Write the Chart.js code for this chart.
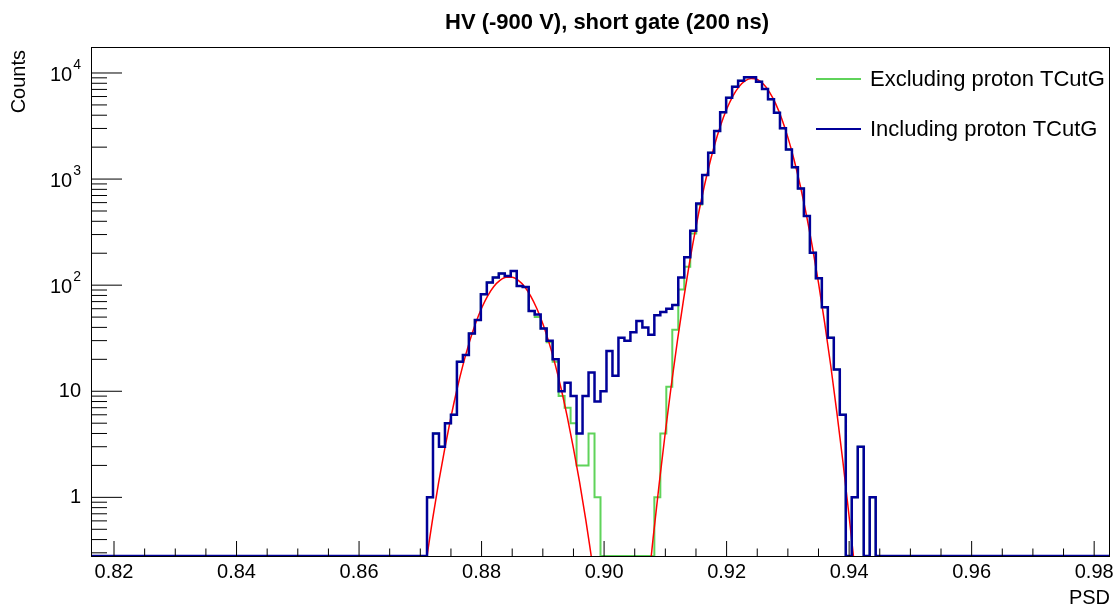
<!DOCTYPE html>
<html>
<head>
<meta charset="utf-8">
<script src="https://cdn.jsdelivr.net/npm/chart.js@4.4.0/dist/chart.umd.min.js"></script>
<style>
  html, body { margin: 0; padding: 0; background: #fff; }
</style>
</head>
<body>
<canvas id="myChart" width="1118" height="611"></canvas>
<script>
// PSD histogram, 1024 bins over [0, 1], only bins 836..1006 are shown
const bin_count = 1024;
const first_shown_bin = 836;
const last_shown_bin = 1006;
const first_filled_bin = 892; // counts below start at this bin

// including proton TCutG (blue)
const counts_incl = [1, 4, 3, 5, 6, 19, 22, 35, 47, 82, 106, 118, 129, 122, 136, 98, 96, 57, 53, 39,
  30, 20, 10, 12, 9, 4, 9, 15, 8, 10, 24, 14, 32, 30, 36, 46, 40, 34, 52, 56,
  60, 65, 118, 183, 325, 590, 1091, 1771, 2837, 4258, 5850, 7430, 8460, 9100, 9100, 8280, 7060, 5650, 4225, 3007,
  1905, 1290, 817, 448, 202, 116, 62, 32, 16, 6, 0, 1, 3, 0, 1];

// excluding proton TCutG (green)
const counts_excl = [1, 4, 3, 5, 6, 19, 22, 35, 47, 82, 106, 118, 129, 122, 136, 98, 96, 57, 50, 39,
  29, 19, 9, 7, 5, 2, 2, 4, 1, 0, 0, 0, 0, 0, 0, 0, 0, 0, 1, 4,
  11, 38, 91, 149, 307, 575, 1091, 1771, 2837, 4258, 5850, 7430, 8460, 9100, 9100, 8280, 7060, 5650, 4225, 3007,
  1905, 1290, 817, 448, 202, 116, 62, 32, 16, 6, 0, 1, 3, 0, 1];

// gaussian fits (red)
const fit1_x = [0.8711, 0.872, 0.873, 0.874, 0.875, 0.876, 0.877, 0.878, 0.879, 0.880, 0.881, 0.882, 0.883, 0.884,
  0.885, 0.886, 0.887, 0.888, 0.889, 0.890, 0.891, 0.892, 0.893, 0.894, 0.895, 0.896, 0.897, 0.8979];
const fit1_y = [0.28, 0.62, 1.39, 2.9, 5.7, 10.5, 18, 28.9, 43.3, 60.6, 79.4, 97.2, 111, 119,
  119, 111, 97.2, 79.4, 60.6, 43.3, 28.9, 18, 10.5, 5.7, 2.9, 1.39, 0.62, 0.28];

const fit2_x = [0.9077, 0.908, 0.909, 0.910, 0.911, 0.912, 0.913, 0.914, 0.915, 0.916, 0.917, 0.918, 0.919, 0.920,
  0.921, 0.922, 0.923, 0.924, 0.925, 0.926, 0.927, 0.928, 0.929, 0.930, 0.931, 0.932, 0.933, 0.934,
  0.935, 0.936, 0.937, 0.938, 0.939, 0.940, 0.9407];
const fit2_y = [0.28, 0.41, 1.35, 4.13, 11.7, 30.8, 75, 170, 355, 689, 1238, 2061, 3180, 4548,
  6028, 7403, 8425, 8887, 8686, 7868, 6604, 5137, 3703, 2474, 1531, 879, 467, 230,
  105, 44.4, 17.4, 6.3, 2.13, 0.66, 0.28];

const y_min = 0.28;
const y_max = 17200;
const x_ticks = [0.82, 0.825, 0.83, 0.835, 0.84, 0.845, 0.85, 0.855, 0.86, 0.865, 0.87, 0.875, 0.88, 0.885,
  0.89, 0.895, 0.90, 0.905, 0.91, 0.915, 0.92, 0.925, 0.93, 0.935, 0.94, 0.945, 0.95, 0.955, 0.96, 0.965,
  0.97, 0.975, 0.98];
const x_labels = ["0.82", "0.84", "0.86", "0.88", "0.90", "0.92", "0.94", "0.96", "0.98"];
const y_major = [1, 10, 100, 1000, 10000];
const y_labels = ["1", "10", "10^2", "10^3", "10^4"];

const font_family = "'Liberation Sans', Arial, Helvetica, sans-serif";

function histPoints(counts) {
  const pts = [];
  for (let b = first_shown_bin; b < last_shown_bin; b++) {
    const i = b - first_filled_bin;
    const c = (i >= 0 && i < counts.length) ? counts[i] : 0;
    pts.push({x: b / bin_count, y: c > 0 ? c : y_min}); // empty bins sit on the axis like ROOT
  }
  pts.push({x: last_shown_bin / bin_count, y: y_min});
  return pts;
}

function fitPoints(xs, ys) {
  return xs.map((x, i) => ({x: x, y: ys[i]}));
}

function labelFor(v) {
  const idx = Math.round((v - 0.82) / 0.02);
  if (Math.abs(v - (0.82 + idx * 0.02)) < 1e-6) return x_labels[idx];
  return "";
}

// frame, inward ticks, y labels, titles and legend, ROOT style
const rootFrame = {
  id: "rootFrame",
  afterDraw(chart) {
    const {ctx, chartArea: a, scales: {x, y}} = chart;
    ctx.save();
    ctx.strokeStyle = "#000";
    ctx.lineWidth = 1;
    ctx.strokeRect(a.left - 0.5, a.top - 0.5, a.right - a.left + 1, a.bottom - a.top + 1);

    ctx.beginPath();
    x.ticks.forEach(t => {
      const px = x.getPixelForValue(t.value);
      const len = labelFor(t.value) ? 15 : 7.5;
      ctx.moveTo(px, a.bottom);
      ctx.lineTo(px, a.bottom - len);
    });
    y.ticks.forEach(t => {
      const py = y.getPixelForValue(t.value);
      const len = y_major.includes(t.value) ? 30 : 15;
      ctx.moveTo(a.left, py);
      ctx.lineTo(a.left + len, py);
    });
    ctx.stroke();

    // y labels with superscript exponents
    ctx.fillStyle = "#000";
    ctx.textBaseline = "middle";
    ctx.textAlign = "right";
    const rx = a.left - 11;
    y_major.forEach((v, i) => {
      const py = y.getPixelForValue(v);
      const parts = y_labels[i].split("^");
      if (parts.length === 1) {
        ctx.font = "20px " + font_family;
        ctx.fillText(parts[0], rx, py);
      } else {
        ctx.font = "14px " + font_family;
        const ew = ctx.measureText(parts[1]).width;
        ctx.fillText(parts[1], rx, py - 8);
        ctx.font = "20px " + font_family;
        ctx.fillText(parts[0], rx - ew - 1, py + 2);
      }
    });

    // axis titles
    ctx.font = "20px " + font_family;
    ctx.textAlign = "right";
    ctx.textBaseline = "middle";
    ctx.fillText("PSD", a.right + 1, 598);
    ctx.save();
    ctx.translate(19, a.top + 2);
    ctx.rotate(-Math.PI / 2);
    ctx.fillText("Counts", 0, 0);
    ctx.restore();

    // title
    ctx.font = "bold 22px " + font_family;
    ctx.textAlign = "center";
    ctx.fillText("HV (-900 V), short gate (200 ns)", 607, 23);

    // legend
    const entries = [chart.data.datasets[0], chart.data.datasets[1]];
    entries.forEach((ds, i) => {
      const ly = 79 + i * 50;
      ctx.strokeStyle = ds.borderColor;
      ctx.lineWidth = 2;
      ctx.beginPath();
      ctx.moveTo(816, ly);
      ctx.lineTo(861, ly);
      ctx.stroke();
      ctx.font = "22px " + font_family;
      ctx.textAlign = "left";
      ctx.fillText(ds.label, 870, ly + 1);
    });
    ctx.restore();
  }
};

const ctx = document.getElementById("myChart").getContext("2d");

const chart = new Chart(ctx, {
  type: "line",
  data: {
    datasets: [
      {
        label: "Excluding proton TCutG",
        data: histPoints(counts_excl),
        borderColor: "#5fd35a",
        borderWidth: 2,
        stepped: "before",
        fill: false,
        order: 2
      },
      {
        label: "Including proton TCutG",
        data: histPoints(counts_incl),
        borderColor: "#000099",
        borderWidth: 2.5,
        stepped: "before",
        fill: false,
        order: 0
      },
      {
        label: "fit 1",
        data: fitPoints(fit1_x, fit1_y),
        borderColor: "#ff0000",
        borderWidth: 1.5,
        cubicInterpolationMode: "monotone",
        fill: false,
        order: 1
      },
      {
        label: "fit 2",
        data: fitPoints(fit2_x, fit2_y),
        borderColor: "#ff0000",
        borderWidth: 1.5,
        cubicInterpolationMode: "monotone",
        fill: false,
        order: 1
      }
    ]
  },
  options: {
    responsive: false,
    animation: false,
    layout: {padding: {top: 48, right: 9, left: 0, bottom: 0}},
    elements: {point: {radius: 0}},
    plugins: {legend: {display: false}, tooltip: {enabled: false}, title: {display: false}},
    scales: {
      x: {
        type: "linear",
        min: first_shown_bin / bin_count,
        max: last_shown_bin / bin_count,
        grid: {display: false, drawTicks: false},
        border: {display: false},
        afterBuildTicks: s => { s.ticks = x_ticks.map(v => ({value: v})); },
        afterFit: s => { s.height = 55; },
        ticks: {
          autoSkip: false,
          maxRotation: 0,
          padding: 4,
          color: "#000",
          font: {family: font_family, size: 20},
          callback: v => labelFor(v)
        }
      },
      y: {
        type: "logarithmic",
        min: y_min,
        max: y_max,
        grid: {display: false, drawTicks: false},
        border: {display: false},
        afterBuildTicks: s => {
          const t = [];
          [0.1, 1, 10, 100, 1000, 10000].forEach(d => {
            for (let m = 1; m <= 9; m++) {
              const v = m * d;
              if (v >= y_min && v <= y_max) t.push({value: v});
            }
          });
          s.ticks = t;
        },
        afterFit: s => { s.width = 92; },
        ticks: {display: false}
      }
    }
  },
  plugins: [rootFrame]
});
</script>
</body>
</html>
